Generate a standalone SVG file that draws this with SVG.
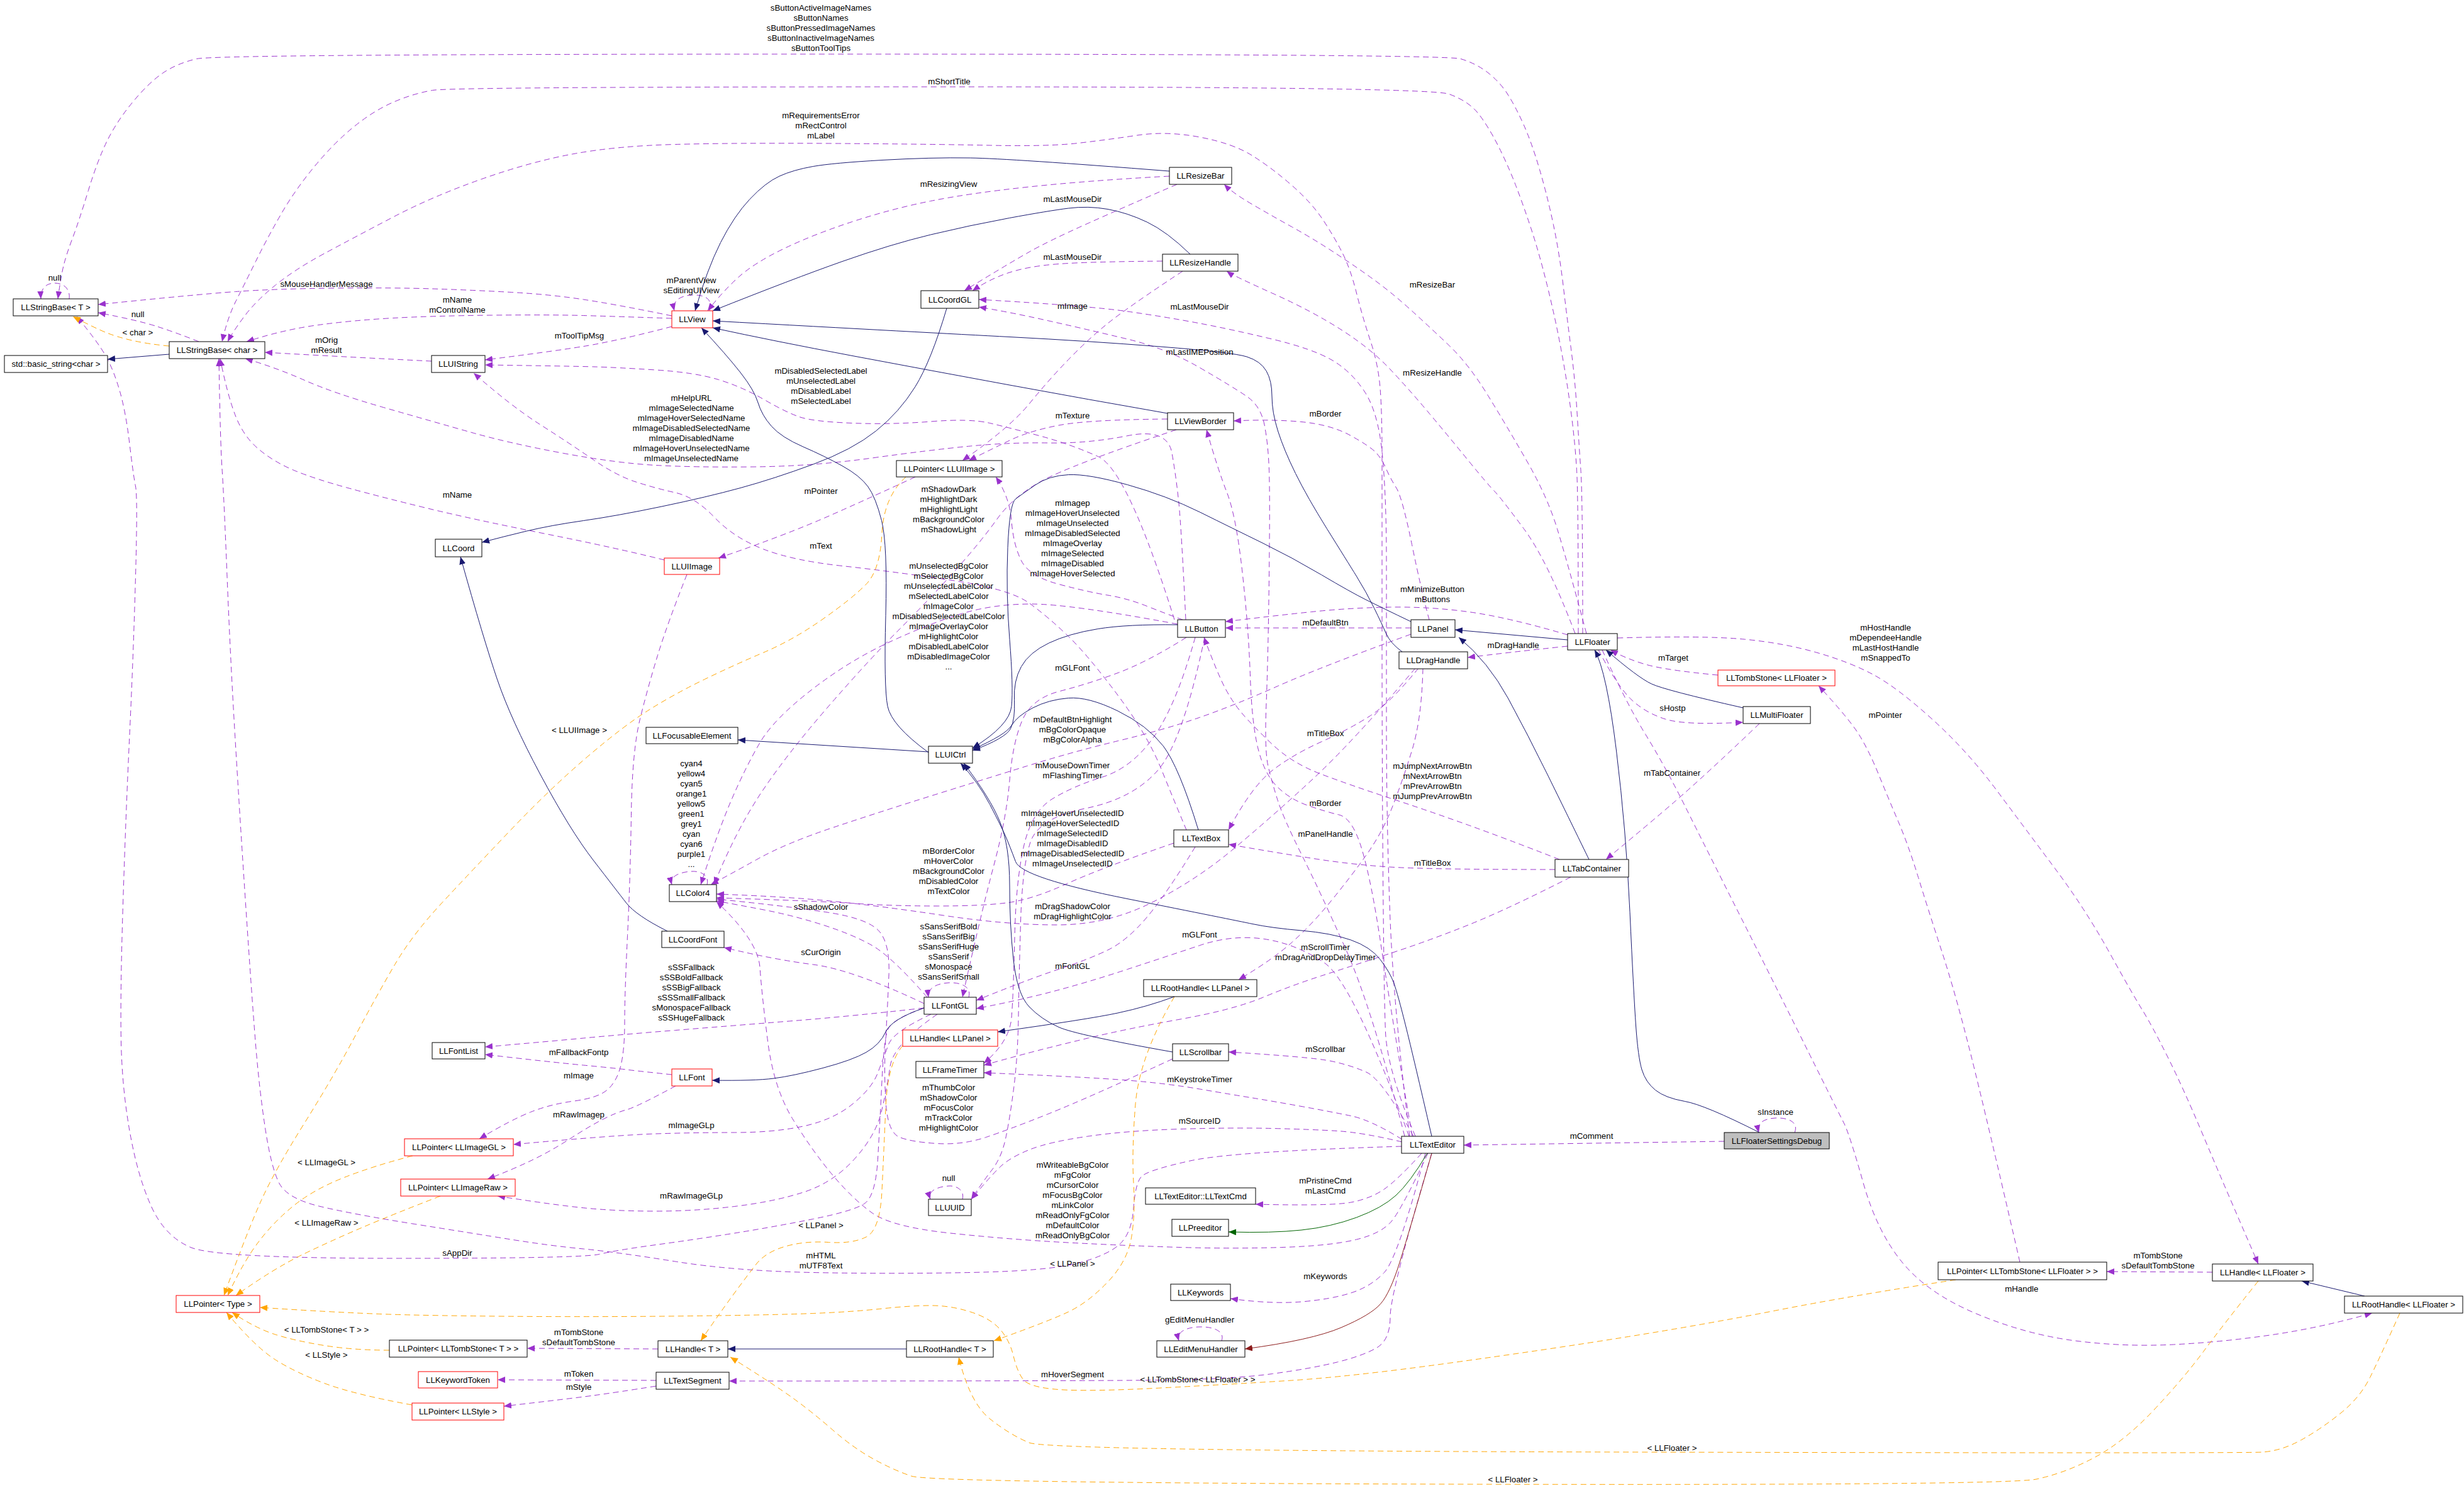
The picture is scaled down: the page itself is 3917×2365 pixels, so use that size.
<svg xmlns="http://www.w3.org/2000/svg" width="3917" height="2365" viewBox="0 0 3917 2365">
<style>
.n rect{fill:#fff;stroke:#000;stroke-width:1}
.n.red rect{stroke:#f00}
.n.gray rect{fill:#bfbfbf}
text{font-family:"Liberation Sans",Arial,Helvetica,sans-serif;font-size:13.3px;fill:#000;text-anchor:middle}
.e path{fill:none;stroke-width:1;stroke-linejoin:round}
.p{stroke:#9a32cd;stroke-dasharray:9 6;marker-end:url(#ap)}
.o{stroke:#ffa500;stroke-dasharray:9 6;marker-end:url(#ao)}
.b{stroke:#191970;marker-end:url(#ab)}
.g{stroke:#006400;marker-end:url(#ag)}
.r{stroke:#8b1a1a;marker-end:url(#ar)}
</style>
<defs>
<marker id="ap" viewBox="0 0 12 10" refX="12" refY="5" markerWidth="12" markerHeight="10" markerUnits="userSpaceOnUse" orient="auto"><path d="M0,0L12,5L0,10z" fill="#9a32cd"/></marker>
<marker id="ao" viewBox="0 0 12 10" refX="12" refY="5" markerWidth="12" markerHeight="10" markerUnits="userSpaceOnUse" orient="auto"><path d="M0,0L12,5L0,10z" fill="#ffa500"/></marker>
<marker id="ab" viewBox="0 0 12 10" refX="12" refY="5" markerWidth="12" markerHeight="10" markerUnits="userSpaceOnUse" orient="auto"><path d="M0,0L12,5L0,10z" fill="#191970"/></marker>
<marker id="ag" viewBox="0 0 12 10" refX="12" refY="5" markerWidth="12" markerHeight="10" markerUnits="userSpaceOnUse" orient="auto"><path d="M0,0L12,5L0,10z" fill="#006400"/></marker>
<marker id="ar" viewBox="0 0 12 10" refX="12" refY="5" markerWidth="12" markerHeight="10" markerUnits="userSpaceOnUse" orient="auto"><path d="M0,0L12,5L0,10z" fill="#8b1a1a"/></marker>
</defs>
<rect x="0" y="0" width="3917" height="2365" fill="#fff"/>
<g id="edges" class="e">
<path class="p" d="M2516,1007 Q2516,790 2513,747.5 Q2510,705 2507,655 Q2504,605 2497.5,554.5 Q2491,504 2485,453.5 Q2479,403 2469.5,357.5 Q2460,312 2447.5,269.5 Q2435,227 2422.5,199 Q2410,171 2397.5,151 Q2385,131 2366,116 Q2347,101 2322,93.5 Q2297,86 1320.5,86 Q344,86 312.5,93.5 Q281,101 259,116 Q237,131 212,161 Q187,191 171.5,221.5 Q156,252 140.5,302.5 Q125,353 115.5,378 Q106,403 101.5,420.5 Q97,438 92,475"/>
<path class="p" d="M2509,1007 Q2509,790 2506.5,747.5 Q2504,705 2497.5,655 Q2491,605 2481.5,554.5 Q2472,504 2459.5,453.5 Q2447,403 2434.5,365 Q2422,327 2409.5,294.5 Q2397,262 2381.5,231.5 Q2366,201 2350.5,181 Q2335,161 2303.5,149.5 Q2272,138 1495.5,138 Q719,138 687.5,143.5 Q656,149 625,162.5 Q594,176 562.5,201.5 Q531,227 500,264.5 Q469,302 447,340 Q425,378 406.5,415.5 Q388,453 375,478.5 Q362,504 353,543"/>
<path class="p" d="M2250,1806 Q2205,1700 2202.5,1640 Q2200,1580 2198.5,1390 Q2197,1200 2197,995 Q2197,790 2197,722.5 Q2197,655 2194,617 Q2191,579 2178.5,541.5 Q2166,504 2156.5,466 Q2147,428 2134.5,403 Q2122,378 2103.5,350 Q2085,322 2053.5,294.5 Q2022,267 1991,247.5 Q1960,228 1907.5,218 Q1855,208 1808,215 Q1761,222 1714,227.5 Q1667,233 1573.5,231 Q1480,229 1323.5,228 Q1167,227 1073.5,229.5 Q980,232 912,244.5 Q844,257 766,284.5 Q688,312 625,345 Q562,378 515.5,403 Q469,428 437.5,453.5 Q406,479 387.5,504 Q369,529 362,543"/>
<path class="p" d="M1068,502 Q980,484 927.5,476 Q875,468 812.5,464.5 Q750,461 687.5,459 Q625,457 531,458 Q437,459 374.5,463.5 Q312,468 156,484"/>
<path class="p" d="M110,475 C112,458 100,450 87,450 C74,450 64,458 65,475"/>
<path class="p" d="M316,543 Q281,529 250,519 Q219,509 156,497"/>
<path class="p" d="M1068,506 Q980,503 927.5,501.5 Q875,500 781.5,501 Q688,502 625,505.5 Q562,509 506,516.5 Q450,524 392,543"/>
<path class="p" d="M686,574 Q562,568 421,560"/>
<path class="p" d="M1068,519 Q980,542 927.5,550.5 Q875,559 771,572"/>
<path class="p" d="M1885,985 Q1878,840 1874,800 Q1870,760 1863,720 Q1856,680 1793,692.5 Q1730,705 1667.5,704 Q1605,703 1542.5,709 Q1480,715 1386,728 Q1292,741 1198.5,742 Q1105,743 1042.5,739.5 Q980,736 896,720.5 Q812,705 750,687.5 Q688,670 609.5,647.5 Q531,625 484.5,604.5 Q438,584 390,570"/>
<path class="p" d="M1867,985 Q1792,746 1745.5,725.5 Q1699,705 1652,692.5 Q1605,680 1573.5,672.5 Q1542,665 1479.5,670 Q1417,675 1354.5,672.5 Q1292,670 1270.5,662.5 Q1249,655 1214.5,635 Q1180,615 1142.5,603.5 Q1105,592 1042.5,588 Q980,584 946,583 Q912,582 771,580"/>
<path class="p" d="M1886,1319 Q1867,1274 1845.5,1221 Q1824,1168 1777,1105 Q1730,1042 1698.5,1011.5 Q1667,981 1636,958.5 Q1605,936 1511,922 Q1417,908 1339,899.5 Q1261,891 1214,873 Q1167,855 1136,822.5 Q1105,790 1073.5,783 Q1042,776 1011,766 Q980,756 943,730.5 Q906,705 859,675 Q812,645 753,593"/>
<path class="p" d="M1056,890 Q980,871 865,848 Q750,825 678,807.5 Q606,790 553,775.5 Q500,761 468.5,748 Q437,735 412.5,715 Q388,695 375,662.5 Q362,630 350,570"/>
<path class="p" d="M2228,1822 Q1960,1830 1892,1845 Q1824,1860 1814.5,1870 Q1805,1880 1802,1920 Q1799,1960 1780,1977.5 Q1761,1995 1714,2007.5 Q1667,2020 1542,2022.5 Q1417,2025 1292,2022.5 Q1167,2020 1073.5,2005 Q980,1990 927.5,1985 Q875,1980 812.5,1970 Q750,1960 656,1945 Q562,1930 509,1917.5 Q456,1905 443.5,1880 Q431,1855 421.5,1792.5 Q412,1730 406,1655 Q400,1580 390.5,1437 Q381,1294 373.5,1168 Q366,1042 361,916 Q356,790 353,745 Q350,700 348,570"/>
<path class="p" d="M1469,1602 Q1417,1620 1411,1637.5 Q1405,1655 1402,1717.5 Q1399,1780 1395.5,1841 Q1392,1902 1373.5,1913.5 Q1355,1925 1292.5,1937.5 Q1230,1950 1167.5,1960 Q1105,1970 1042.5,1978.5 Q980,1987 952.5,1993.5 Q925,2000 634.5,2000 Q344,2000 303,1982.5 Q262,1965 240.5,1917.5 Q219,1870 206.5,1800 Q194,1730 192.5,1655 Q191,1580 195.5,1437 Q200,1294 206,1168 Q212,1042 215.5,916 Q219,790 215.5,773 Q212,756 206,705.5 Q200,655 190.5,622 Q181,589 168.5,566.5 Q156,544 122,503"/>
<path class="p" d="M1859,280 Q1730,287 1636,297 Q1542,307 1479.5,319.5 Q1417,332 1354.5,352.5 Q1292,373 1245.5,395.5 Q1199,418 1174,440.5 Q1149,463 1125,494"/>
<path class="p" d="M1128,494 C1135,472 1115,468 1099,469 C1082,470 1068,478 1072,494"/>
<path class="p" d="M1871,293 Q1792,327 1729.5,355 Q1667,383 1636,400.5 Q1605,418 1533,462"/>
<path class="p" d="M1848,415 Q1730,416 1683,419.5 Q1636,423 1605,433 Q1574,443 1546,462"/>
<path class="p" d="M1880,431 Q1792,489 1761,514 Q1730,539 1698.5,571.5 Q1667,604 1636,642 Q1605,680 1530,732"/>
<path class="p" d="M2241,1806 Q2215,1600 2209.5,1450 Q2204,1300 2204,1150 Q2204,1000 2204,895 Q2204,790 2197.5,722.5 Q2191,655 2169,622 Q2147,589 2116,571.5 Q2085,554 2022.5,539 Q1960,524 1907.5,514 Q1855,504 1792.5,495 Q1730,486 1556,476"/>
<path class="p" d="M2233,1806 Q2180,1600 2140,1510 Q2100,1420 2070,1360 Q2040,1300 2031,1271.5 Q2022,1243 2016,1218 Q2010,1193 2013,1117.5 Q2016,1042 2017.5,916 Q2019,790 2017.5,747.5 Q2016,705 2010,675 Q2004,645 1982,630 Q1960,615 1907.5,584.5 Q1855,554 1792.5,539 Q1730,524 1667.5,510 Q1605,496 1556,488"/>
<path class="p" d="M1856,666 Q1730,667 1683,676 Q1636,685 1605,700 Q1574,715 1540,732"/>
<path class="p" d="M1455,758 Q1386,790 1318,820 Q1250,850 1142,887"/>
<path class="p" d="M1880,985 Q1855,976 1823.5,963.5 Q1792,951 1761,946 Q1730,941 1683,928.5 Q1636,916 1623.5,891 Q1611,866 1608,828 Q1605,790 1583,758"/>
<path class="p" d="M1870,683 Q1700,740 1655,765 Q1610,790 1585,825 Q1560,860 1520,905 Q1480,950 1430,1000 Q1380,1050 1315,1125 Q1250,1200 1210,1260 Q1170,1320 1135,1406"/>
<path class="p" d="M1872,992 Q1700,960 1640,960 Q1580,960 1530,975 Q1480,990 1415,1020 Q1350,1050 1290,1096.5 Q1230,1143 1208,1180.5 Q1186,1218 1164,1268.5 Q1142,1319 1114,1406"/>
<path class="p" d="M2243,1008 Q2100,1060 2030,1091 Q1960,1122 1905,1141 Q1850,1160 1777.5,1177.5 Q1705,1195 1632.5,1217.5 Q1560,1240 1480,1265 Q1400,1290 1325,1315 Q1250,1340 1205,1365 Q1160,1390 1130,1406"/>
<path class="p" d="M1900,1013 Q1870,1120 1835,1170 Q1800,1220 1752.5,1235 Q1705,1250 1672.5,1270 Q1640,1290 1627.5,1345 Q1615,1400 1613,1490 Q1611,1580 1608,1617.5 Q1605,1655 1564,1690"/>
<path class="p" d="M1915,1013 Q1880,1180 1840,1225 Q1800,1270 1725,1285 Q1650,1300 1637.5,1340 Q1625,1380 1622.5,1465 Q1620,1550 1619,1615 Q1618,1680 1611.5,1730 Q1605,1780 1598.5,1810 Q1592,1840 1576.5,1860 Q1561,1880 1544,1906"/>
<path class="p" d="M1886,1013 Q1824,1052 1777,1069.5 Q1730,1087 1685,1098.5 Q1640,1110 1625,1145 Q1610,1180 1605,1240 Q1600,1300 1580,1375 Q1560,1450 1530,1585"/>
<path class="p" d="M2250,1062 Q2150,1180 2085,1240 Q2020,1300 1960,1350 Q1900,1400 1830,1435 Q1760,1470 1680,1470 Q1600,1470 1500,1455 Q1400,1440 1325,1432.5 Q1250,1425 1139,1421"/>
<path class="p" d="M1866,1340 Q1750,1380 1695,1405 Q1640,1430 1600,1435 Q1560,1440 1490,1440 Q1420,1440 1360,1436 Q1300,1432 1139,1427"/>
<path class="p" d="M1474,1585 Q1417,1520 1386,1502.5 Q1355,1485 1308,1470 Q1261,1455 1214,1446 Q1167,1437 1139,1432"/>
<path class="p" d="M1469,1595 Q1355,1541 1292.5,1533 Q1230,1525 1151,1506"/>
<path class="p" d="M1540,1585 C1545,1567 1525,1561 1508,1562 C1490,1563 1474,1570 1476,1585"/>
<path class="p" d="M1900,1346 Q1855,1420 1823.5,1457.5 Q1792,1495 1761,1510 Q1730,1525 1683,1540.5 Q1636,1556 1552,1590"/>
<path class="p" d="M2240,1806 Q2150,1560 2105,1530 Q2060,1500 2010,1492.5 Q1960,1485 1907.5,1502.5 Q1855,1520 1792.5,1540.5 Q1730,1561 1675,1575.5 Q1620,1590 1552,1603"/>
<path class="p" d="M1469,1602 Q1355,1615 1261,1622.5 Q1167,1630 1073.5,1637.5 Q980,1645 927.5,1650 Q875,1655 771,1664"/>
<path class="p" d="M1068,1708 Q1011,1702 995.5,1700 Q980,1698 927.5,1693 Q875,1688 771,1676"/>
<path class="p" d="M1092,913 Q1061,991 1045.5,1041.5 Q1030,1092 1017.5,1142.5 Q1005,1193 1003.5,1294 Q1002,1395 997.5,1487.5 Q993,1580 993,1625 Q993,1670 986.5,1695 Q980,1720 965,1732.5 Q950,1745 912.5,1750 Q875,1755 843.5,1767.5 Q812,1780 762,1810"/>
<path class="p" d="M1074,1726 Q1011,1760 995.5,1764 Q980,1768 958.5,1779 Q937,1790 906,1810 Q875,1830 843.5,1845 Q812,1860 775,1874"/>
<path class="p" d="M1480,1612 Q1420,1640 1412.5,1660 Q1405,1680 1395.5,1705 Q1386,1730 1355,1755 Q1324,1780 1277,1790 Q1230,1800 1167.5,1800 Q1105,1800 1042.5,1802 Q980,1804 816,1819"/>
<path class="p" d="M1490,1612 Q1420,1660 1415,1695 Q1410,1730 1401,1767.5 Q1392,1805 1358,1842.5 Q1324,1880 1277,1895 Q1230,1910 1167.5,1917.5 Q1105,1925 1042.5,1925 Q980,1925 930,1920 Q880,1915 791,1901"/>
<path class="p" d="M1046,2144 L838,2143"/>
<path class="p" d="M1043,2194 L791,2193"/>
<path class="p" d="M1043,2203 Q980,2213 943,2218 Q906,2223 801,2235"/>
<path class="p" d="M2276,1833 Q2210,2055 2210,2092.5 Q2210,2130 2188,2142.5 Q2166,2155 2125.5,2165 Q2085,2175 2022.5,2183.5 Q1960,2192 1845,2193.5 Q1730,2195 1159,2195"/>
<path class="p" d="M2247,1806 Q2197,1715 2172,1704 Q2147,1693 2116,1686.5 Q2085,1680 1953,1672"/>
<path class="p" d="M2229,1811 Q2179,1780 2147.5,1773.5 Q2116,1767 2069,1758.5 Q2022,1750 1991,1745 Q1960,1740 1907.5,1731 Q1855,1722 1792.5,1717 Q1730,1712 1564,1705"/>
<path class="p" d="M2229,1815 Q2166,1800 2125.5,1797.5 Q2085,1795 2022.5,1793.5 Q1960,1792 1876,1794.5 Q1792,1797 1729.5,1806 Q1667,1815 1636,1827.5 Q1605,1840 1589.5,1855 Q1574,1870 1544,1906"/>
<path class="p" d="M2260,1833 Q2222,1875 2200.5,1890 Q2179,1905 2147.5,1911 Q2116,1917 1996,1914"/>
<path class="p" d="M2266,1833 Q2222,2000 2200.5,2022.5 Q2179,2045 2147.5,2055 Q2116,2065 2069,2069 Q2022,2073 1956,2064"/>
<path class="p" d="M2270,1833 Q2229,1920 2213,1940 Q2197,1960 2156.5,1970 Q2116,1980 2038,1982.5 Q1960,1985 1876,1982.5 Q1792,1980 1698.5,1975 Q1605,1970 1511,1960 Q1417,1950 1386,1927.5 Q1355,1905 1323.5,1867.5 Q1292,1830 1261,1780 Q1230,1730 1220.5,1655 Q1211,1580 1208,1537.5 Q1205,1495 1139,1433"/>
<path class="p" d="M2741,1814 L2327,1820"/>
<path class="p" d="M2853,1800 C2860,1782 2840,1776 2822,1777 C2805,1778 2792,1784 2796,1800"/>
<path class="p" d="M1942,2131 C1948,2114 1925,2108 1905,2109 C1885,2110 1870,2117 1874,2131"/>
<path class="p" d="M1530,1906 C1534,1890 1518,1884 1508,1885 C1492,1886 1474,1892 1479,1906"/>
<path class="p" d="M1124,1406 C1128,1390 1112,1384 1099,1385 C1082,1386 1064,1392 1068,1406"/>
<path class="p" d="M2255,1062 Q2210,1117 2178.5,1137.5 Q2147,1158 2100.5,1179 Q2054,1200 2022,1225 Q1990,1250 1953,1319"/>
<path class="p" d="M2472,1382 Q2272,1382 2209.5,1378 Q2147,1374 2084.5,1364 Q2022,1354 1953,1342"/>
<path class="p" d="M2479,1366 Q2397,1334 2334.5,1311.5 Q2272,1289 2209.5,1268.5 Q2147,1248 2100.5,1230.5 Q2054,1213 2022.5,1183 Q1991,1153 1975.5,1135 Q1960,1117 1948,1094.5 Q1936,1072 1914,1013"/>
<path class="p" d="M2492,1009 Q2397,981 2334.5,972.5 Q2272,964 2209.5,965 Q2147,966 2084.5,972.5 Q2022,979 1948,988"/>
<path class="p" d="M2243,998 L1948,998"/>
<path class="p" d="M2492,1027 Q2397,1037 2333,1045"/>
<path class="p" d="M2272,985 Q2260,941 2244.5,865.5 Q2229,790 2219.5,775 Q2210,760 2203.5,745 Q2197,730 2188,720 Q2179,710 2147.5,692.5 Q2116,675 2069,670.5 Q2022,666 1961,669"/>
<path class="p" d="M2245,1806 Q2210,1600 2195,1500 Q2180,1400 2165,1350 Q2150,1300 2128.5,1295 Q2107,1290 2078.5,1280 Q2050,1270 2030,1250 Q2010,1230 2000,1190 Q1990,1150 1987.5,1075 Q1985,1000 1975,910 Q1965,820 1950.5,783 Q1936,746 1918,683"/>
<path class="p" d="M2262,1062 Q2260,1143 2244.5,1193 Q2229,1243 2213,1283.5 Q2197,1324 2172,1359 Q2147,1394 2116,1432 Q2085,1470 2053.5,1498 Q2022,1526 1969,1557"/>
<path class="p" d="M2497,1394 Q2397,1445 2334.5,1470 Q2272,1495 2209.5,1515.5 Q2147,1536 2100.5,1551 Q2054,1566 2007,1585.5 Q1960,1605 1876,1620 Q1792,1635 1729.5,1650 Q1667,1665 1629.5,1675 Q1592,1685 1564,1693"/>
<path class="p" d="M1864,1683 Q1730,1745 1667.5,1770 Q1605,1795 1567.5,1807.5 Q1530,1820 1489.5,1817.5 Q1449,1815 1430,1807.5 Q1411,1800 1408,1750 Q1405,1700 1408,1650 Q1411,1600 1413,1550 Q1415,1500 1397.5,1480 Q1380,1460 1315,1450 Q1250,1440 1139,1429"/>
<path class="p" d="M2522,1007 Q2491,891 2475.5,840.5 Q2460,790 2428.5,735 Q2397,680 2366,629.5 Q2335,579 2303.5,549 Q2272,519 2241,491 Q2210,463 2178.5,440.5 Q2147,418 2116,398 Q2085,378 2053.5,360.5 Q2022,343 1991,325 Q1960,307 1946,293"/>
<path class="p" d="M2504,1007 Q2460,891 2422.5,840.5 Q2385,790 2375.5,780.5 Q2366,771 2335,733 Q2304,695 2272.5,657.5 Q2241,620 2210,587 Q2179,554 2132,524 Q2085,494 2022.5,466 Q1960,438 1950,431"/>
<path class="p" d="M2571,1014 Q2710,1010 2772.5,1016 Q2835,1022 2887.5,1037 Q2940,1052 2977.5,1072 Q3015,1092 3071,1142.5 Q3127,1193 3174,1256 Q3221,1319 3268,1382 Q3315,1445 3352.5,1512.5 Q3390,1580 3405.5,1605 Q3421,1630 3446,1680 Q3471,1730 3502.5,1805 Q3534,1880 3590,2009"/>
<path class="p" d="M2731,1073 Q2647,1065 2616,1056 Q2585,1047 2560,1033"/>
<path class="p" d="M2541,1033 Q2572,1092 2594,1112.5 Q2616,1133 2647.5,1143 Q2679,1153 2771,1148"/>
<path class="p" d="M2797,1150 Q2710,1233 2663,1273.5 Q2616,1314 2553,1366"/>
<path class="p" d="M3211,2006 Q3159,1780 3134,1680 Q3109,1580 3087,1512.5 Q3065,1445 3049.5,1394.5 Q3034,1344 3018,1306.5 Q3002,1269 2986.5,1231 Q2971,1193 2955.5,1168 Q2940,1143 2891,1090"/>
<path class="p" d="M2547,1033 Q2585,1117 2616,1167.5 Q2647,1218 2678.5,1281 Q2710,1344 2769.5,1462 Q2829,1580 2875.5,1673.5 Q2922,1767 2931,1784.5 Q2940,1802 2962,1880 Q2984,1958 3024.5,2007 Q3065,2056 3143,2088.5 Q3221,2121 3299,2131 Q3377,2141 3455.5,2137 Q3534,2133 3612,2121.5 Q3690,2110 3771,2087"/>
<path class="p" d="M3517,2022 L3349,2021"/>
<path class="o" d="M269,550 Q237,547 212,541.5 Q187,536 168.5,528.5 Q150,521 116,503"/>
<path class="o" d="M1440,758 Q1405,790 1402,848 Q1399,906 1377,928.5 Q1355,951 1308,984 Q1261,1017 1214,1037 Q1167,1057 1120.5,1079.5 Q1074,1102 1033,1127.5 Q992,1153 933.5,1203 Q875,1253 812.5,1318.5 Q750,1384 703,1434.5 Q656,1485 628,1532.5 Q600,1580 565.5,1645 Q531,1710 484,1785 Q437,1860 415.5,1907.5 Q394,1955 356,2059"/>
<path class="o" d="M656,1837 Q594,1853 547,1871.5 Q500,1890 468.5,1915 Q437,1940 412,1972.5 Q387,2005 362,2059"/>
<path class="o" d="M700,1901 Q625,1930 578,1950 Q531,1970 484,1992.5 Q437,2015 375,2059"/>
<path class="o" d="M619,2146 Q562,2146 515.5,2138.5 Q469,2131 437.5,2121 Q406,2111 369,2086"/>
<path class="o" d="M655,2233 Q562,2216 515.5,2198.5 Q469,2181 437.5,2161 Q406,2141 360,2086"/>
<path class="o" d="M3109,2034 Q2940,2060 2825,2082.5 Q2710,2105 2585,2125 Q2460,2145 2303.5,2166.5 Q2147,2188 2053.5,2194 Q1960,2200 1845,2206 Q1730,2212 1683,2208.5 Q1636,2205 1626.5,2192.5 Q1617,2180 1611,2155 Q1605,2130 1589.5,2112.5 Q1574,2095 1542.5,2085 Q1511,2075 1480,2075 Q1449,2075 1402,2080 Q1355,2085 1292.5,2087.5 Q1230,2090 1105,2091.5 Q980,2093 865,2092.5 Q750,2092 656,2090 Q562,2088 413,2078"/>
<path class="o" d="M1435,1662 Q1411,1690 1408,1760 Q1405,1830 1402,1892.5 Q1399,1955 1377,1966 Q1355,1977 1317.5,1974.5 Q1280,1972 1248.5,1981 Q1217,1990 1201.5,2010 Q1186,2030 1164,2060 Q1142,2090 1114,2131"/>
<path class="o" d="M1867,1584 Q1811,1680 1805,1755 Q1799,1830 1802,1880 Q1805,1930 1798.5,1967.5 Q1792,2005 1761,2037.5 Q1730,2070 1698.5,2085 Q1667,2100 1580,2131"/>
<path class="o" d="M3815,2087 Q3784,2156 3768,2188.5 Q3752,2221 3721,2246 Q3690,2271 3658.5,2288.5 Q3627,2306 3596,2308 Q3565,2310 2616,2308 Q1667,2306 1636,2293 Q1605,2280 1573.5,2255 Q1542,2230 1524,2157"/>
<path class="o" d="M3590,2036 Q3534,2106 3502.5,2148.5 Q3471,2191 3424,2241 Q3377,2291 3330.5,2316 Q3284,2341 3237,2351 Q3190,2361 2335,2359 Q1480,2357 1448.5,2346 Q1417,2335 1386,2317.5 Q1355,2300 1323.5,2272.5 Q1292,2245 1261,2222.5 Q1230,2200 1161,2157"/>
<path class="b" d="M269,563 L171,571"/>
<path class="b" d="M1859,272 Q1605,252 1542.5,251 Q1480,250 1402,254.5 Q1324,259 1292.5,264.5 Q1261,270 1239,280 Q1217,290 1192,316.5 Q1167,343 1145.5,385.5 Q1124,428 1105,494"/>
<path class="b" d="M1892,404 Q1855,368 1823.5,353 Q1792,338 1761,332.5 Q1730,327 1698.5,331 Q1667,335 1604.5,346.5 Q1542,358 1479.5,373 Q1417,388 1339,415.5 Q1261,443 1133,494"/>
<path class="b" d="M2229,1036 Q2210,1022 2203.5,1007 Q2197,992 2184.5,966.5 Q2172,941 2156.5,916 Q2141,891 2109.5,840.5 Q2078,790 2059.5,752.5 Q2041,715 2031.5,685 Q2022,655 2022,630 Q2022,605 2013,589.5 Q2004,574 1982,567 Q1960,560 1845,551 Q1730,542 1605,535.5 Q1480,529 1133,510"/>
<path class="b" d="M1856,657 Q1730,635 1605,612 Q1480,589 1355,565.5 Q1230,542 1133,521"/>
<path class="b" d="M1476,1196 Q1417,1153 1411,1122.5 Q1405,1092 1408,978.5 Q1411,865 1401.5,827.5 Q1392,790 1379.5,773 Q1367,756 1339,740.5 Q1311,725 1276.5,710 Q1242,695 1226.5,677.5 Q1211,660 1205,640 Q1199,620 1177,592 Q1155,564 1115,521"/>
<path class="b" d="M1505,490 Q1480,574 1455,614.5 Q1430,655 1392.5,685 Q1355,715 1292.5,738 Q1230,761 1177,775.5 Q1124,790 1052,805 Q980,820 927.5,827.5 Q875,835 837.5,844 Q800,853 766,862"/>
<path class="b" d="M1061,1480 Q1011,1455 995.5,1435 Q980,1415 943,1367 Q906,1319 859,1231 Q812,1143 790.5,1080 Q769,1017 732,885"/>
<path class="b" d="M1476,1195 L1173,1176"/>
<path class="b" d="M1872,993 Q1792,992 1745.5,999.5 Q1699,1007 1667.5,1022 Q1636,1037 1623.5,1059.5 Q1611,1082 1612.5,1112.5 Q1614,1143 1606.5,1158 Q1599,1173 1546,1193"/>
<path class="b" d="M1905,1319 Q1874,1218 1849,1185.5 Q1824,1153 1777,1130 Q1730,1107 1698.5,1109.5 Q1667,1112 1642,1125 Q1617,1138 1608,1153 Q1599,1168 1546,1191"/>
<path class="b" d="M2243,988 Q2197,966 2172,953.5 Q2147,941 2100.5,913.5 Q2054,886 2007,863 Q1960,840 1907.5,814 Q1855,788 1792.5,770.5 Q1730,753 1698.5,754.5 Q1667,756 1645.5,771 Q1624,786 1614.5,793 Q1605,800 1602,870.5 Q1599,941 1605,1016.5 Q1611,1092 1608,1122.5 Q1605,1153 1546,1189"/>
<path class="b" d="M2276,1806 Q2247,1680 2234.5,1630 Q2222,1580 2216,1563 Q2210,1546 2194.5,1525.5 Q2179,1505 2147.5,1494 Q2116,1483 2069,1479 Q2022,1475 1991,1468.5 Q1960,1462 1792,1428.5 Q1624,1395 1614.5,1369.5 Q1605,1344 1598.5,1329 Q1592,1314 1573.5,1278.5 Q1555,1243 1527,1213"/>
<path class="b" d="M1864,1672 Q1711,1645 1683,1632.5 Q1655,1620 1636,1600 Q1617,1580 1611,1525 Q1605,1470 1605,1407 Q1605,1344 1589.5,1306 Q1574,1268 1532,1213"/>
<path class="b" d="M1469,1602 Q1417,1620 1408,1640 Q1399,1660 1377,1672.5 Q1355,1685 1308,1697.5 Q1261,1710 1230,1714 Q1199,1718 1132,1717"/>
<path class="b" d="M1867,1584 Q1824,1600 1777,1610 Q1730,1620 1586,1640"/>
<path class="b" d="M1441,2144 L1157,2144"/>
<path class="b" d="M2492,1017 L2313,1001"/>
<path class="b" d="M2771,1125 Q2647,1097 2625.5,1087 Q2604,1077 2553,1033"/>
<path class="b" d="M2526,1366 Q2491,1294 2460,1231 Q2429,1168 2397.5,1110 Q2366,1052 2319,1013"/>
<path class="b" d="M2797,1800 Q2710,1756 2678.5,1750.5 Q2647,1745 2631.5,1732.5 Q2616,1720 2610,1700 Q2604,1680 2600.5,1630 Q2597,1580 2591,1449.5 Q2585,1319 2569.5,1193 Q2554,1067 2535,1033"/>
<path class="b" d="M3759,2060 L3659,2036"/>
<path class="g" d="M2269,1833 Q2241,1880 2219,1900 Q2197,1920 2156.5,1935 Q2116,1950 2069,1955 Q2022,1960 1953,1958"/>
<path class="r" d="M2276,1833 Q2241,1955 2225.5,2005 Q2210,2055 2194.5,2072.5 Q2179,2090 2132,2110 Q2085,2130 1979,2144"/>
</g>
<g id="labels">
<text x="87" y="445.7">null</text>
<text x="519" y="455.7">sMouseHandlerMessage</text>
<text x="727" y="481.3">mName<tspan x="727" dy="16">mControlName</tspan></text>
<text x="219" y="503.7">null</text>
<text x="219" y="533.2">&lt; char &gt;</text>
<text x="519" y="544.7">mOrig<tspan x="519" dy="16">mResult</tspan></text>
<text x="921" y="538.2">mToolTipMsg</text>
<text x="727" y="790.7">mName</text>
<text x="1305" y="17.3">sButtonActiveImageNames<tspan x="1305" dy="16">sButtonNames</tspan><tspan x="1305" dy="16">sButtonPressedImageNames</tspan><tspan x="1305" dy="16">sButtonInactiveImageNames</tspan><tspan x="1305" dy="16">sButtonToolTips</tspan></text>
<text x="1509" y="134.2">mShortTitle</text>
<text x="1305" y="188.1">mRequirementsError<tspan x="1305" dy="16">mRectControl</tspan><tspan x="1305" dy="16">mLabel</tspan></text>
<text x="1508" y="296.7">mResizingView</text>
<text x="1705" y="321.1">mLastMouseDir</text>
<text x="1705" y="413.3">mLastMouseDir</text>
<text x="1099" y="450.1">mParentView<tspan x="1099" dy="16">sEditingUIView</tspan></text>
<text x="1705" y="490.7">mImage</text>
<text x="1907" y="492.4">mLastMouseDir</text>
<text x="1907" y="563.7">mLastIMEPosition</text>
<text x="1305" y="594.1">mDisabledSelectedLabel<tspan x="1305" dy="16">mUnselectedLabel</tspan><tspan x="1305" dy="16">mDisabledLabel</tspan><tspan x="1305" dy="16">mSelectedLabel</tspan></text>
<text x="1099" y="637">mHelpURL<tspan x="1099" dy="16">mImageSelectedName</tspan><tspan x="1099" dy="16">mImageHoverSelectedName</tspan><tspan x="1099" dy="16">mImageDisabledSelectedName</tspan><tspan x="1099" dy="16">mImageDisabledName</tspan><tspan x="1099" dy="16">mImageHoverUnselectedName</tspan><tspan x="1099" dy="16">mImageUnselectedName</tspan></text>
<text x="1705" y="665.2">mTexture</text>
<text x="1305" y="785.1">mPointer</text>
<text x="1508" y="782.1">mShadowDark<tspan x="1508" dy="16">mHighlightDark</tspan><tspan x="1508" dy="16">mHighlightLight</tspan><tspan x="1508" dy="16">mBackgroundColor</tspan><tspan x="1508" dy="16">mShadowLight</tspan></text>
<text x="2277" y="457.1">mResizeBar</text>
<text x="2277" y="597.2">mResizeHandle</text>
<text x="2107" y="662.2">mBorder</text>
<text x="921" y="1164.7">&lt; LLUIImage &gt;</text>
<text x="1305" y="872.3">mText</text>
<text x="1705" y="804.3">mImagep<tspan x="1705" dy="16">mImageHoverUnselected</tspan><tspan x="1705" dy="16">mImageUnselected</tspan><tspan x="1705" dy="16">mImageDisabledSelected</tspan><tspan x="1705" dy="16">mImageOverlay</tspan><tspan x="1705" dy="16">mImageSelected</tspan><tspan x="1705" dy="16">mImageDisabled</tspan><tspan x="1705" dy="16">mImageHoverSelected</tspan></text>
<text x="1508" y="904">mUnselectedBgColor<tspan x="1508" dy="16">mSelectedBgColor</tspan><tspan x="1508" dy="16">mUnselectedLabelColor</tspan><tspan x="1508" dy="16">mSelectedLabelColor</tspan><tspan x="1508" dy="16">mImageColor</tspan><tspan x="1508" dy="16">mDisabledSelectedLabelColor</tspan><tspan x="1508" dy="16">mImageOverlayColor</tspan><tspan x="1508" dy="16">mHighlightColor</tspan><tspan x="1508" dy="16">mDisabledLabelColor</tspan><tspan x="1508" dy="16">mDisabledImageColor</tspan><tspan x="1508" dy="16">...</tspan></text>
<text x="1705" y="1066.2">mGLFont</text>
<text x="1705" y="1148.4">mDefaultBtnHighlight<tspan x="1705" dy="16">mBgColorOpaque</tspan><tspan x="1705" dy="16">mBgColorAlpha</tspan></text>
<text x="1705" y="1221.4">mMouseDownTimer<tspan x="1705" dy="16">mFlashingTimer</tspan></text>
<text x="1099" y="1218.4">cyan4<tspan x="1099" dy="16">yellow4</tspan><tspan x="1099" dy="16">cyan5</tspan><tspan x="1099" dy="16">orange1</tspan><tspan x="1099" dy="16">yellow5</tspan><tspan x="1099" dy="16">green1</tspan><tspan x="1099" dy="16">grey1</tspan><tspan x="1099" dy="16">cyan</tspan><tspan x="1099" dy="16">cyan6</tspan><tspan x="1099" dy="16">purple1</tspan><tspan x="1099" dy="16">...</tspan></text>
<text x="1705" y="1297">mImageHoverUnselectedID<tspan x="1705" dy="16">mImageHoverSelectedID</tspan><tspan x="1705" dy="16">mImageSelectedID</tspan><tspan x="1705" dy="16">mImageDisabledID</tspan><tspan x="1705" dy="16">mImageDisabledSelectedID</tspan><tspan x="1705" dy="16">mImageUnselectedID</tspan></text>
<text x="1508" y="1356.9">mBorderColor<tspan x="1508" dy="16">mHoverColor</tspan><tspan x="1508" dy="16">mBackgroundColor</tspan><tspan x="1508" dy="16">mDisabledColor</tspan><tspan x="1508" dy="16">mTextColor</tspan></text>
<text x="1305" y="1446.1">sShadowColor</text>
<text x="1705" y="1445.1">mDragShadowColor<tspan x="1705" dy="16">mDragHighlightColor</tspan></text>
<text x="1907" y="1489.9">mGLFont</text>
<text x="1508" y="1477.3">sSansSerifBold<tspan x="1508" dy="16">sSansSerifBig</tspan><tspan x="1508" dy="16">sSansSerifHuge</tspan><tspan x="1508" dy="16">sSansSerif</tspan><tspan x="1508" dy="16">sMonospace</tspan><tspan x="1508" dy="16">sSansSerifSmall</tspan></text>
<text x="1305" y="1518.1">sCurOrigin</text>
<text x="1705" y="1540.3">mFontGL</text>
<text x="1099" y="1542.3">sSSFallback<tspan x="1099" dy="16">sSSBoldFallback</tspan><tspan x="1099" dy="16">sSSBigFallback</tspan><tspan x="1099" dy="16">sSSSmallFallback</tspan><tspan x="1099" dy="16">sMonospaceFallback</tspan><tspan x="1099" dy="16">sSSHugeFallback</tspan></text>
<text x="2277" y="941.3">mMinimizeButton<tspan x="2277" dy="16">mButtons</tspan></text>
<text x="2107" y="994.2">mDefaultBtn</text>
<text x="2405.6" y="1030">mDragHandle</text>
<text x="2660" y="1050.1">mTarget</text>
<text x="2659" y="1130.2">sHostp</text>
<text x="2107" y="1170">mTitleBox</text>
<text x="2277" y="1221.9">mJumpNextArrowBtn<tspan x="2277" dy="16">mNextArrowBtn</tspan><tspan x="2277" dy="16">mPrevArrowBtn</tspan><tspan x="2277" dy="16">mJumpPrevArrowBtn</tspan></text>
<text x="2658" y="1233">mTabContainer</text>
<text x="2107" y="1281.4">mBorder</text>
<text x="2107" y="1330.2">mPanelHandle</text>
<text x="2277" y="1376.1">mTitleBox</text>
<text x="2107" y="1510.1">mScrollTimer<tspan x="2107" dy="16">mDragAndDropDelayTimer</tspan></text>
<text x="2997.5" y="1002.3">mHostHandle<tspan x="2997.5" dy="16">mDependeeHandle</tspan><tspan x="2997.5" dy="16">mLastHostHandle</tspan><tspan x="2997.5" dy="16">mSnappedTo</tspan></text>
<text x="2997" y="1141.3">mPointer</text>
<text x="920" y="1677.2">mFallbackFontp</text>
<text x="920" y="1713.7">mImage</text>
<text x="920" y="1776.2">mRawImagep</text>
<text x="519" y="1852.2">&lt; LLImageGL &gt;</text>
<text x="519" y="1948.2">&lt; LLImageRaw &gt;</text>
<text x="727" y="1995.7">sAppDir</text>
<text x="519" y="2118.2">&lt; LLTombStone&lt; T &gt; &gt;</text>
<text x="920" y="2121.7">mTombStone<tspan x="920" dy="16">sDefaultTombStone</tspan></text>
<text x="519" y="2158.2">&lt; LLStyle &gt;</text>
<text x="920" y="2188.2">mToken</text>
<text x="920" y="2209.2">mStyle</text>
<text x="1099" y="1792.7">mImageGLp</text>
<text x="1099" y="1904.7">mRawImageGLp</text>
<text x="1907" y="1720.2">mKeystrokeTimer</text>
<text x="1508" y="1733.2">mThumbColor<tspan x="1508" dy="16">mShadowColor</tspan><tspan x="1508" dy="16">mFocusColor</tspan><tspan x="1508" dy="16">mTrackColor</tspan><tspan x="1508" dy="16">mHighlightColor</tspan></text>
<text x="1907" y="1785.7">mSourceID</text>
<text x="1508" y="1876.7">null</text>
<text x="1705" y="1855.7">mWriteableBgColor<tspan x="1705" dy="16">mFgColor</tspan><tspan x="1705" dy="16">mCursorColor</tspan><tspan x="1705" dy="16">mFocusBgColor</tspan><tspan x="1705" dy="16">mLinkColor</tspan><tspan x="1705" dy="16">mReadOnlyFgColor</tspan><tspan x="1705" dy="16">mDefaultColor</tspan><tspan x="1705" dy="16">mReadOnlyBgColor</tspan></text>
<text x="1305" y="1951.7">&lt; LLPanel &gt;</text>
<text x="1305" y="1999.7">mHTML<tspan x="1305" dy="16">mUTF8Text</tspan></text>
<text x="1705" y="2012.7">&lt; LLPanel &gt;</text>
<text x="1907" y="2101.7">gEditMenuHandler</text>
<text x="1705" y="2189.2">mHoverSegment</text>
<text x="1904" y="2196.7">&lt; LLTombStone&lt; LLFloater &gt; &gt;</text>
<text x="2107" y="1672.2">mScrollbar</text>
<text x="2107" y="1880.7">mPristineCmd<tspan x="2107" dy="16">mLastCmd</tspan></text>
<text x="2107" y="2032.7">mKeywords</text>
<text x="2530" y="1809.7">mComment</text>
<text x="2822.5" y="1772.2">sInstance</text>
<text x="2658" y="2305.7">&lt; LLFloater &gt;</text>
<text x="2405" y="2356.2">&lt; LLFloater &gt;</text>
<text x="3430.6" y="1999.7">mTombStone<tspan x="3430.6" dy="16">sDefaultTombStone</tspan></text>
<text x="3213.8" y="2052.7">mHandle</text>
</g>
<g id="n1" class="n"><rect x="21" y="475" width="135" height="27"/><text x="88.5" y="493.2">LLStringBase&lt; T &gt;</text></g>
<g id="n2" class="n"><rect x="269" y="543" width="152" height="27"/><text x="345" y="561.2">LLStringBase&lt; char &gt;</text></g>
<g id="n3" class="n"><rect x="7" y="565" width="164" height="27"/><text x="89" y="583.2">std::basic_string&lt;char &gt;</text></g>
<g id="n4" class="n"><rect x="686" y="565" width="85" height="27"/><text x="728.5" y="583.2">LLUIString</text></g>
<g id="n5" class="n red"><rect x="1068" y="494" width="65" height="27"/><text x="1100.5" y="512.2">LLView</text></g>
<g id="n6" class="n"><rect x="1859" y="266" width="99" height="27"/><text x="1908.5" y="284.2">LLResizeBar</text></g>
<g id="n7" class="n"><rect x="1848" y="404" width="120" height="27"/><text x="1908" y="422.2">LLResizeHandle</text></g>
<g id="n8" class="n"><rect x="1464" y="462" width="92" height="28"/><text x="1510" y="480.7">LLCoordGL</text></g>
<g id="n9" class="n"><rect x="1856" y="656" width="105" height="27"/><text x="1908.5" y="674.2">LLViewBorder</text></g>
<g id="n10" class="n"><rect x="1425" y="732" width="168" height="26"/><text x="1509" y="749.7">LLPointer&lt; LLUIImage &gt;</text></g>
<g id="n11" class="n"><rect x="692" y="857" width="74" height="28"/><text x="729" y="875.7">LLCoord</text></g>
<g id="n12" class="n red"><rect x="1056" y="887" width="88" height="26"/><text x="1100" y="904.7">LLUIImage</text></g>
<g id="n13" class="n"><rect x="1027" y="1156" width="146" height="26"/><text x="1100" y="1173.7">LLFocusableElement</text></g>
<g id="n14" class="n"><rect x="1476" y="1186" width="70" height="27"/><text x="1511" y="1204.2">LLUICtrl</text></g>
<g id="n15" class="n"><rect x="1872" y="985" width="76" height="28"/><text x="1910" y="1003.7">LLButton</text></g>
<g id="n16" class="n"><rect x="1866" y="1319" width="87" height="27"/><text x="1909.5" y="1337.2">LLTextBox</text></g>
<g id="n17" class="n"><rect x="1064" y="1406" width="75" height="27"/><text x="1101.5" y="1424.2">LLColor4</text></g>
<g id="n18" class="n"><rect x="1052" y="1480" width="99" height="26"/><text x="1101.5" y="1497.7">LLCoordFont</text></g>
<g id="n19" class="n"><rect x="1818" y="1557" width="180" height="27"/><text x="1908" y="1575.2">LLRootHandle&lt; LLPanel &gt;</text></g>
<g id="n20" class="n"><rect x="2243" y="985" width="70" height="28"/><text x="2278" y="1003.7">LLPanel</text></g>
<g id="n21" class="n"><rect x="2224" y="1036" width="109" height="27"/><text x="2278.5" y="1054.2">LLDragHandle</text></g>
<g id="n22" class="n"><rect x="2492" y="1007" width="79" height="26"/><text x="2531.5" y="1024.7">LLFloater</text></g>
<g id="n23" class="n red"><rect x="2731" y="1065" width="186" height="25"/><text x="2824" y="1082.2">LLTombStone&lt; LLFloater &gt;</text></g>
<g id="n24" class="n"><rect x="2771" y="1123" width="107" height="27"/><text x="2824.5" y="1141.2">LLMultiFloater</text></g>
<g id="n25" class="n"><rect x="2472" y="1366" width="117" height="28"/><text x="2530.5" y="1384.7">LLTabContainer</text></g>
<g id="n26" class="n"><rect x="687" y="1657" width="84" height="26"/><text x="729" y="1674.7">LLFontList</text></g>
<g id="n27" class="n red"><rect x="643" y="1810" width="173" height="27"/><text x="729.5" y="1828.2">LLPointer&lt; LLImageGL &gt;</text></g>
<g id="n28" class="n red"><rect x="637" y="1874" width="182" height="27"/><text x="728" y="1892.2">LLPointer&lt; LLImageRaw &gt;</text></g>
<g id="n29" class="n red"><rect x="280" y="2059" width="133" height="27"/><text x="346.5" y="2077.2">LLPointer&lt; Type &gt;</text></g>
<g id="n30" class="n"><rect x="619" y="2130" width="219" height="27"/><text x="728.5" y="2148.2">LLPointer&lt; LLTombStone&lt; T &gt; &gt;</text></g>
<g id="n31" class="n red"><rect x="665" y="2180" width="126" height="26"/><text x="728" y="2197.7">LLKeywordToken</text></g>
<g id="n32" class="n red"><rect x="655" y="2230" width="146" height="27"/><text x="728" y="2248.2">LLPointer&lt; LLStyle &gt;</text></g>
<g id="n33" class="n"><rect x="1469" y="1585" width="83" height="27"/><text x="1510.5" y="1603.2">LLFontGL</text></g>
<g id="n34" class="n red"><rect x="1435" y="1637" width="151" height="26"/><text x="1510.5" y="1654.7">LLHandle&lt; LLPanel &gt;</text></g>
<g id="n35" class="n"><rect x="1456" y="1687" width="108" height="26"/><text x="1510" y="1704.7">LLFrameTimer</text></g>
<g id="n36" class="n red"><rect x="1068" y="1699" width="64" height="27"/><text x="1100" y="1717.2">LLFont</text></g>
<g id="n37" class="n"><rect x="1864" y="1659" width="89" height="27"/><text x="1908.5" y="1677.2">LLScrollbar</text></g>
<g id="n38" class="n"><rect x="1476" y="1906" width="68" height="26"/><text x="1510" y="1923.7">LLUUID</text></g>
<g id="n39" class="n"><rect x="1821" y="1888" width="175" height="26"/><text x="1908.5" y="1905.7">LLTextEditor::LLTextCmd</text></g>
<g id="n40" class="n"><rect x="1863" y="1938" width="90" height="27"/><text x="1908" y="1956.2">LLPreeditor</text></g>
<g id="n41" class="n"><rect x="1861" y="2041" width="95" height="26"/><text x="1908.5" y="2058.7">LLKeywords</text></g>
<g id="n42" class="n"><rect x="1839" y="2131" width="140" height="26"/><text x="1909" y="2148.7">LLEditMenuHandler</text></g>
<g id="n43" class="n"><rect x="1046" y="2131" width="111" height="26"/><text x="1101.5" y="2148.7">LLHandle&lt; T &gt;</text></g>
<g id="n44" class="n"><rect x="1441" y="2131" width="138" height="26"/><text x="1510" y="2148.7">LLRootHandle&lt; T &gt;</text></g>
<g id="n45" class="n"><rect x="1043" y="2181" width="116" height="27"/><text x="1101" y="2199.2">LLTextSegment</text></g>
<g id="n46" class="n"><rect x="2228" y="1806" width="99" height="27"/><text x="2277.5" y="1824.2">LLTextEditor</text></g>
<g id="n47" class="n gray"><rect x="2741" y="1800" width="167" height="26"/><text x="2824.5" y="1817.7">LLFloaterSettingsDebug</text></g>
<g id="n48" class="n"><rect x="3081" y="2006" width="268" height="28"/><text x="3215" y="2024.7">LLPointer&lt; LLTombStone&lt; LLFloater &gt; &gt;</text></g>
<g id="n49" class="n"><rect x="3517" y="2009" width="160" height="27"/><text x="3597" y="2027.2">LLHandle&lt; LLFloater &gt;</text></g>
<g id="n50" class="n"><rect x="3727" y="2060" width="188" height="27"/><text x="3821" y="2078.2">LLRootHandle&lt; LLFloater &gt;</text></g>
</svg>
